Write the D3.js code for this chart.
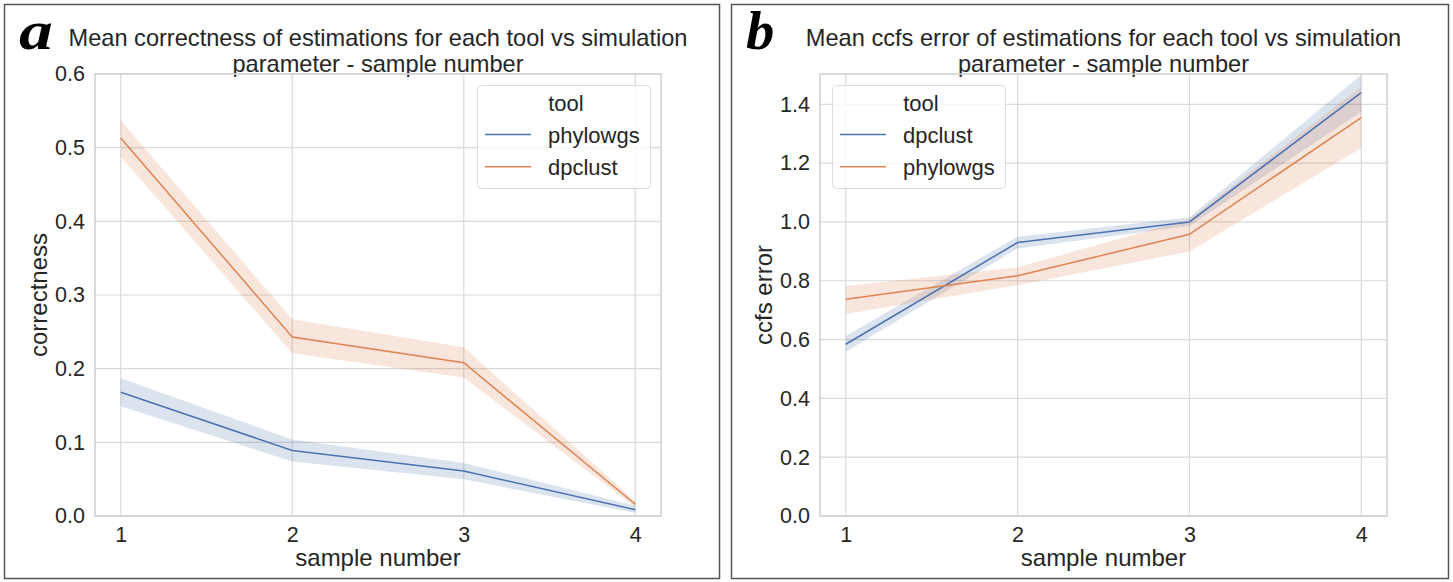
<!DOCTYPE html>
<html>
<head>
<meta charset="utf-8">
<script src="https://cdn.jsdelivr.net/npm/d3@7"></script>
<style>
  html, body { margin: 0; padding: 0; background: #ffffff; }
  svg { display: block; }
  text { font-family: "Liberation Sans", Arial, sans-serif; fill: #262626; }
</style>
</head>
<body>
<svg id="fig" width="1453" height="582"></svg>
<script>
// Sample counts on the x axis
const samples = [1, 2, 3, 4];
const xTicks = [1, 2, 3, 4];

// Panel a: mean correctness with 95% CI
const corrPhylowgs   = [0.168, 0.089, 0.061, 0.0086];
const corrPhylowgsLo = [0.149, 0.074, 0.050, 0.004];
const corrPhylowgsHi = [0.187, 0.104, 0.072, 0.014];
const corrDpclust    = [0.513, 0.243, 0.208, 0.016];
const corrDpclustLo  = [0.488, 0.221, 0.188, 0.012];
const corrDpclustHi  = [0.537, 0.267, 0.229, 0.020];
const corrYTicks = [0.0, 0.1, 0.2, 0.3, 0.4, 0.5, 0.6];

// Panel b: mean ccfs error with 95% CI
const ccfsDpclust     = [0.584, 0.930, 1.000, 1.440];
const ccfsDpclustLo   = [0.559, 0.910, 0.986, 1.375];
const ccfsDpclustHi   = [0.612, 0.950, 1.016, 1.500];
const ccfsPhylowgs    = [0.737, 0.817, 0.958, 1.355];
const ccfsPhylowgsLo  = [0.687, 0.785, 0.899, 1.251];
const ccfsPhylowgsHi  = [0.782, 0.846, 1.009, 1.460];
const ccfsYTicks = [0.0, 0.2, 0.4, 0.6, 0.8, 1.0, 1.2, 1.4];

const BLUE = "#4c72b0", ORANGE = "#dd8452";
const TITLE_SIZE = "23.6px", LABEL_SIZE = "24px", TICK_SIZE = "21.5px", LEGEND_SIZE = "22px";

const svg = d3.select("#fig");

function series(name, color, mean, lo, hi) {
  return { name, color, rows: samples.map((s, i) => ({ x: s, y: mean[i], lo: lo[i], hi: hi[i] })) };
}

const panels = [
  {
    letter: "a", letterStretch: 1.25, frame: [4, 4, 715, 574],
    letterX: 19, letterY: 49,
    title: ["Mean correctness of estimations for each tool vs simulation", "parameter - sample number"],
    plot: { left: 95, right: 661, top: 74, bottom: 516 },
    yDomain: [0, 0.6], yTicks: corrYTicks, yLabel: "correctness", yLabelX: 47,
    series: [
      series("phylowgs", BLUE, corrPhylowgs, corrPhylowgsLo, corrPhylowgsHi),
      series("dpclust", ORANGE, corrDpclust, corrDpclustLo, corrDpclustHi)
    ],
    legend: { x: 477, y: 85, w: 173, h: 103 }
  },
  {
    letter: "b", letterStretch: 1.05, frame: [731, 4, 717, 574],
    letterX: 746, letterY: 49,
    title: ["Mean ccfs error of estimations for each tool vs simulation", "parameter - sample number"],
    plot: { left: 820, right: 1387, top: 74, bottom: 516 },
    yDomain: [0, 1.503], yTicks: ccfsYTicks, yLabel: "ccfs error", yLabelX: 772,
    series: [
      series("dpclust", BLUE, ccfsDpclust, ccfsDpclustLo, ccfsDpclustHi),
      series("phylowgs", ORANGE, ccfsPhylowgs, ccfsPhylowgsLo, ccfsPhylowgsHi)
    ],
    legend: { x: 832, y: 85, w: 173, h: 103 }
  }
];

panels.forEach(p => {
  const g = svg.append("g");
  const P = p.plot;

  // panel frame
  g.append("rect")
    .attr("x", p.frame[0] + 0.5).attr("y", p.frame[1] + 0.5)
    .attr("width", p.frame[2]).attr("height", p.frame[3])
    .attr("fill", "none").attr("stroke", "#555").attr("stroke-width", 1.5);

  // panel letter
  g.append("text")
    .attr("transform", `translate(${p.letterX},${p.letterY}) scale(${p.letterStretch},1)`)
    .style("font-family", "'Liberation Serif', 'DejaVu Serif', serif")
    .style("font-weight", "bold").style("font-style", "italic")
    .style("font-size", "54px").style("fill", "#000")
    .text(p.letter);

  const x = d3.scaleLinear().domain([0.85, 4.15]).range([P.left, P.right]);
  const y = d3.scaleLinear().domain(p.yDomain).range([P.bottom, P.top]);
  const cx = (P.left + P.right) / 2;

  // title
  p.title.forEach((t, i) => {
    g.append("text").attr("x", cx).attr("y", 46 + i * 25.5)
      .attr("text-anchor", "middle").style("font-size", TITLE_SIZE).text(t);
  });

  // grid
  const grid = g.append("g");
  grid.selectAll("line.v").data(xTicks).join("line")
    .attr("x1", d => x(d)).attr("x2", d => x(d))
    .attr("y1", P.top).attr("y2", P.bottom)
    .attr("stroke", "#d9d9d9").attr("stroke-width", 1.2);
  grid.selectAll("line.h").data(p.yTicks).join("line")
    .attr("x1", P.left).attr("x2", P.right)
    .attr("y1", d => y(d)).attr("y2", d => y(d))
    .attr("stroke", "#d9d9d9").attr("stroke-width", 1.2);

  // tick labels
  const xAxis = g.append("g").attr("transform", `translate(0,${P.bottom})`)
    .call(d3.axisBottom(x).tickValues(xTicks).tickFormat(d3.format("d")).tickSize(0).tickPadding(10.5));
  const yAxis = g.append("g").attr("transform", `translate(${P.left},0)`)
    .call(d3.axisLeft(y).tickValues(p.yTicks).tickFormat(d3.format(".1f")).tickSize(0).tickPadding(10));
  [xAxis, yAxis].forEach(a => {
    a.select(".domain").remove();
    a.selectAll("text").style("font-size", TICK_SIZE).style("fill", "#262626")
      .style("font-family", "'Liberation Sans', Arial, sans-serif");
  });

  // axes frame
  g.append("rect")
    .attr("x", P.left).attr("y", P.top)
    .attr("width", P.right - P.left).attr("height", P.bottom - P.top)
    .attr("fill", "none").attr("stroke", "#d0d0d0").attr("stroke-width", 1.5);

  // axis labels
  g.append("text").attr("x", cx).attr("y", 566)
    .attr("text-anchor", "middle").style("font-size", LABEL_SIZE).text("sample number");
  g.append("text")
    .attr("transform", `translate(${p.yLabelX},${(P.top + P.bottom) / 2}) rotate(-90)`)
    .attr("text-anchor", "middle").style("font-size", LABEL_SIZE).text(p.yLabel);

  // CI bands and mean lines
  const area = d3.area().x(d => x(d.x)).y0(d => y(d.lo)).y1(d => y(d.hi));
  const line = d3.line().x(d => x(d.x)).y(d => y(d.y));
  p.series.forEach(s => {
    g.append("path").datum(s.rows).attr("d", area)
      .attr("fill", s.color).attr("fill-opacity", 0.2).attr("stroke", "none");
  });
  p.series.forEach(s => {
    g.append("path").datum(s.rows).attr("d", line)
      .attr("fill", "none").attr("stroke", s.color).attr("stroke-width", 1.5);
  });

  // legend
  const L = p.legend;
  const lg = g.append("g");
  lg.append("rect").attr("x", L.x + 0.5).attr("y", L.y + 0.5)
    .attr("width", L.w).attr("height", L.h).attr("rx", 4)
    .attr("fill", "#ffffff").attr("fill-opacity", 0.8)
    .attr("stroke", "#dcdcdc").attr("stroke-width", 1);
  lg.append("text").attr("x", L.x + 89).attr("y", L.y + 25.5)
    .attr("text-anchor", "middle").style("font-size", LEGEND_SIZE).text("tool");
  p.series.forEach((s, i) => {
    const yy = L.y + 49.5 + i * 32.3;
    lg.append("line").attr("x1", L.x + 8).attr("x2", L.x + 54)
      .attr("y1", yy).attr("y2", yy)
      .attr("stroke", s.color).attr("stroke-width", 1.5);
    lg.append("text").attr("x", L.x + 71).attr("y", yy + 8)
      .style("font-size", LEGEND_SIZE).text(s.name);
  });
});
</script>
</body>
</html>
